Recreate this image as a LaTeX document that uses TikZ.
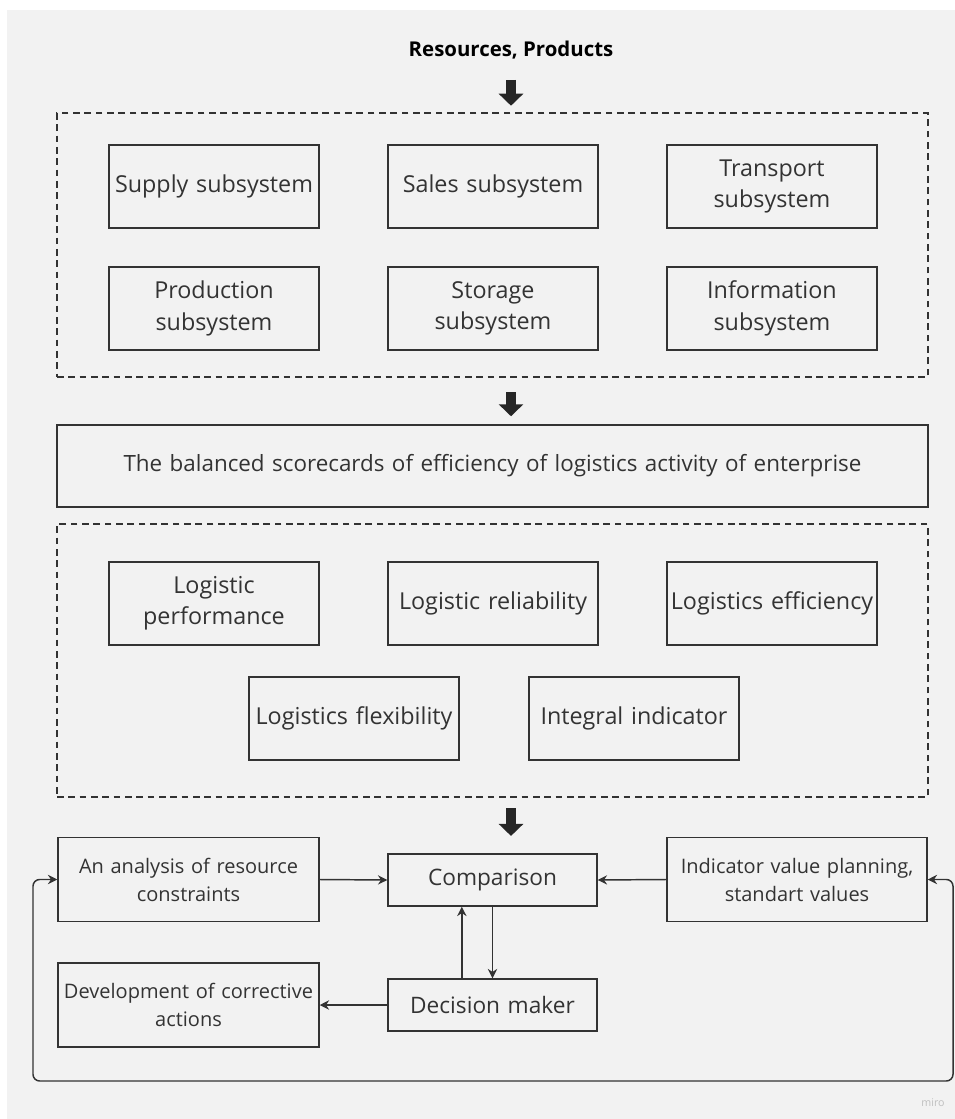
\documentclass[tikz,border=0pt]{standalone}
\usepackage{fontspec}
\setmainfont{Open Sans}
\usetikzlibrary{arrows.meta}
\definecolor{bgcol}{HTML}{F2F2F2}
\definecolor{inkcol}{HTML}{333333}
\tikzset{
  subbox/.style={draw=inkcol,line width=1.1pt,minimum width=157.5pt,minimum height=62.25pt,
    text width=155pt,align=center,inner sep=0pt,text=inkcol,font=\fontsize{17.5}{23.5}\selectfont},
  loopbox/.style={subbox,font=\fontsize{15}{21}\selectfont},
  groupbox/.style={draw=inkcol,line width=0.9pt,dash pattern=on 5pt off 3.5pt,minimum width=653.25pt,inner sep=0pt},
  fatarrow/.style={draw=black!85,line width=7.5pt,-{Triangle[length=9pt,width=18pt]}},
  thinarrow/.style={draw=inkcol,line width=1.1pt,-{Stealth[length=7pt,width=7pt]}}
}
\begin{document}
\begin{tikzpicture}[x=0.75pt,y=-0.75pt]
  \fill[white] (0,0) rectangle (955,1119);
  \fill[bgcol] (7,10) rectangle (955,1119);
  \useasboundingbox (0,0) rectangle (955,1119);

  \node[text=black,font=\fontsize{15.3}{18}\selectfont\bfseries] (res) at (511,50) {Resources, Products};

  % subsystems
  \node[groupbox,minimum height=198pt] (subsys) at (492.5,245) {};
  \node[subbox] (supply) at (214,186.5) {Supply subsystem};
  \node[subbox] (sales) at (493,186.5) {Sales subsystem};
  \node[subbox] (transport) at (772,186.5) {Transport\\subsystem};
  \node[subbox] (production) at (214,308.5) {Production\\subsystem};
  \node[subbox] (storage) at (493,308.5) {Storage\\subsystem};
  \node[subbox] (information) at (772,308.5) {Information\\subsystem};

  \node[subbox,minimum width=653.25pt,text width=640pt,minimum height=61.5pt,font=\fontsize{16.8}{22}\selectfont] (score) at (492.5,466)
    {The balanced scorecards of efficiency of logistics activity of enterprise};

  % indicators
  \node[groupbox,minimum height=204.75pt] (indic) at (492.5,660.5) {};
  \node[subbox] (performance) at (214,603.5) {Logistic\\performance};
  \node[subbox] (reliability) at (493,603.5) {Logistic reliability};
  \node[subbox] (efficiency) at (772,603.5) {Logistics efficiency};
  \node[subbox] (flexibility) at (354,718.5) {Logistics flexibility};
  \node[subbox] (integral) at (634,718.5) {Integral indicator};

  % control loop
  \node[loopbox,minimum width=195.75pt,text width=194pt,minimum height=63pt] (analysis) at (188.5,879.5)
    {An analysis of resource\\constraints};
  \node[subbox,minimum width=156.75pt,minimum height=39pt,font=\fontsize{17}{20}\selectfont] (comparison) at (492.5,880) {Comparison};
  \node[loopbox,minimum width=195pt,text width=194pt,minimum height=63pt] (planning) at (797,879.5)
    {Indicator value planning,\\standart values};
  \node[loopbox,minimum width=195.75pt,text width=195pt,minimum height=63pt] (corrective) at (188.5,1005)
    {Development of corrective\\actions};
  \node[subbox,minimum width=156.75pt,minimum height=39pt,font=\fontsize{17}{20}\selectfont] (decision) at (492.5,1005) {Decision maker};

  \coordinate (loopleft) at (33,1081);
  \coordinate (loopright) at (953,1081);

  \draw[fatarrow,shorten <=12pt,shorten >=5pt] (res.south) -- (subsys.north -| res.south);
  \draw[fatarrow,shorten <=11pt,shorten >=6pt] (subsys.south -| res.south) -- (score.north -| res.south);
  \draw[fatarrow,shorten <=8pt,shorten >=13pt] (indic.south -| res.south) -- (comparison.north -| res.south);

  \draw[thinarrow] (analysis.east) -- (comparison.west);
  \draw[thinarrow] (planning.west) -- (comparison.east);
  \draw[thinarrow] ([xshift=-23pt]decision.north) -- ([xshift=-23pt]comparison.south);
  \draw[thinarrow] (comparison.south) -- (decision.north);
  \draw[thinarrow] (decision.west) -- (corrective.east);
  \draw[thinarrow,{Stealth[length=7pt,width=7pt]}-{Stealth[length=7pt,width=7pt]},rounded corners=5pt]
    (analysis.west) -| (loopleft) -- (loopright) |- (planning.east);

  \node[text=black!25,font=\fontsize{8}{10}\selectfont] (miro) at (933,1103) {miro};
\end{tikzpicture}
\end{document}
